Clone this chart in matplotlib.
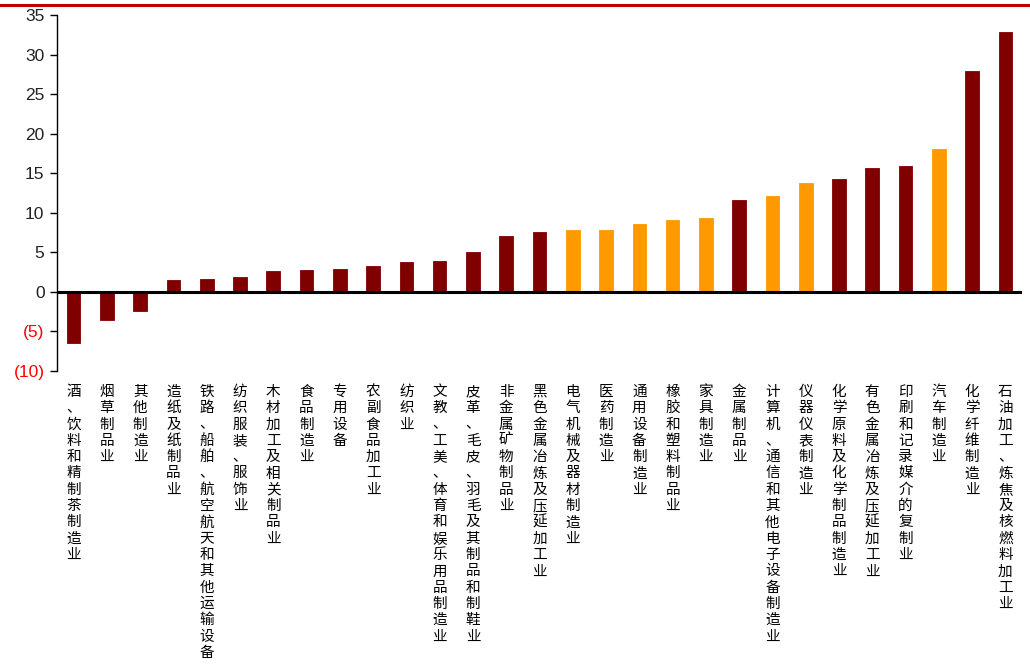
import matplotlib
matplotlib.use('Agg')
import matplotlib.pyplot as plt
from matplotlib.lines import Line2D
from matplotlib.ticker import FuncFormatter

plt.rcParams['font.family'] = ['Liberation Sans', 'DejaVu Sans']

# 行业及同比增速 (%)
industries = [
    '酒、饮料和精制茶制造业', '烟草制品业', '其他制造业', '造纸及纸制品业',
    '铁路、船舶、航空航天和其他运输设备', '纺织服装、服饰业', '木材加工及相关制品业',
    '食品制造业', '专用设备', '农副食品加工业', '纺织业',
    '文教、工美、体育和娱乐用品制造业', '皮革、毛皮、羽毛及其制品和制鞋业',
    '非金属矿物制品业', '黑色金属冶炼及压延加工业', '电气机械及器材制造业',
    '医药制造业', '通用设备制造业', '橡胶和塑料制品业', '家具制造业', '金属制品业',
    '计算机、通信和其他电子设备制造业', '仪器仪表制造业', '化学原料及化学制品制造业',
    '有色金属冶炼及压延加工业', '印刷和记录媒介的复制业', '汽车制造业',
    '化学纤维制造业', '石油加工、炼焦及核燃料加工业',
]
values = [
    -6.45, -3.5, -2.4, 1.45, 1.58, 1.83, 2.63, 2.72, 2.84, 3.26, 3.77,
    3.9, 5.1, 7.1, 7.55, 7.8, 7.8, 8.6, 9.1, 9.3, 11.6,
    12.1, 13.8, 14.25, 15.6, 15.95, 18.1, 27.9, 32.8,
]
highlighted = [
    '电气机械及器材制造业', '医药制造业', '通用设备制造业', '橡胶和塑料制品业',
    '家具制造业', '计算机、通信和其他电子设备制造业', '仪器仪表制造业', '汽车制造业',
]
y_ticks = [-10, -5, 0, 5, 10, 15, 20, 25, 30, 35]

dark_red = '#800000'
orange = '#FF9900'
colors = [orange if name in highlighted else dark_red for name in industries]

fig = plt.figure(figsize=(10.3, 6.64), dpi=100)
ax = fig.add_axes([57 / 1030, 1 - 371 / 664, 965 / 1030, 356 / 664])

x = list(range(len(industries)))
ax.bar(x, values, width=0.41, color=colors, edgecolor=colors, linewidth=0.6, zorder=2)
ax.axhline(0, color='black', linewidth=2.2, zorder=3)

ax.set_xlim(-0.5, len(industries) - 0.5)
ax.set_ylim(-10, 35)
ax.set_yticks(y_ticks)
ax.yaxis.set_major_formatter(FuncFormatter(
    lambda v, pos: f'({abs(int(v))})' if v < 0 else f'{int(v)}'))
ax.tick_params(axis='y', labelsize=12.5, length=5, width=1, direction='out', pad=4)
for lab, v in zip(ax.get_yticklabels(), y_ticks):
    lab.set_color('#FF0000' if v < 0 else '#222222')

for side in ['top', 'right', 'bottom']:
    ax.spines[side].set_visible(False)
ax.spines['left'].set_linewidth(1)

# vertical category labels, one character per line
ax.set_xticks(x)
ax.set_xticklabels(['\n'.join(name) for name in industries],
                   family=['Noto Sans CJK SC', 'DejaVu Sans'],
                   fontsize=10.5, linespacing=1.21, va='top')
ax.tick_params(axis='x', length=0, pad=10)

# red rule across the top
fig.add_artist(Line2D([0, 1], [1 - 4.5 / 664, 1 - 4.5 / 664],
                      transform=fig.transFigure, color='#C00000', linewidth=2.2))

fig.savefig('out.png', dpi=100)
